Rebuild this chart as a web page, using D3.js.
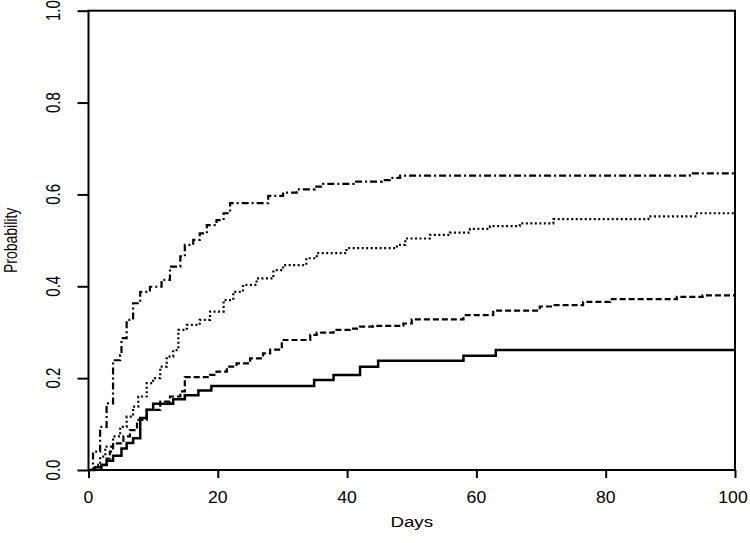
<!DOCTYPE html>
<html>
<head>
<meta charset="utf-8">
<script src="https://cdn.jsdelivr.net/npm/d3@7"></script>
<style>
  body { margin: 0; background: #fff; }
  svg { display: block; font-family: "Liberation Sans", Arial, sans-serif; }
</style>
</head>
<body>
<svg id="chart"></svg>
<script>
// Cumulative probability step curves
const solidDays = [0, 1, 2, 2.8, 3.8, 5.1, 5.9, 6.9, 8, 9, 10, 13.1, 14.9, 17, 19, 34.9, 37.9, 42, 44.8, 58, 63, 100];
const solidVals = [0, 0.006, 0.011, 0.020, 0.031, 0.047, 0.059, 0.069, 0.113, 0.131, 0.144, 0.154, 0.163, 0.173, 0.183, 0.196, 0.207, 0.225, 0.238, 0.249, 0.261, 0.261];

const dashedDays = [0, 2, 2.8, 3.3, 3.8, 5.4, 6.4, 7.5, 9, 11.1, 12.6, 14.2, 14.9, 18.8, 19.8, 21.4, 22.9, 25, 27, 28.1, 29.9, 34.3, 35.3, 37.9, 40.4, 42, 44, 48.7, 50, 58, 62.6, 69.8, 71.9, 76.5, 80.7, 91, 95, 100];
const dashedVals = [0, 0.011, 0.025, 0.040, 0.058, 0.073, 0.087, 0.109, 0.131, 0.149, 0.160, 0.171, 0.202, 0.207, 0.214, 0.225, 0.232, 0.243, 0.254, 0.262, 0.283, 0.294, 0.299, 0.305, 0.308, 0.312, 0.314, 0.319, 0.328, 0.337, 0.347, 0.356, 0.359, 0.366, 0.372, 0.377, 0.380, 0.380];

const dottedDays = [0, 1.5, 1.8, 2.6, 3.8, 4.9, 5.9, 6.9, 7.7, 9, 10, 11.1, 12.1, 13.1, 13.9, 15.2, 17.2, 18.8, 20.9, 22.4, 23.9, 26, 28.6, 30.1, 33.7, 35.3, 39.9, 47.7, 49, 52.8, 55.9, 59, 62.1, 66.7, 71.9, 86.6, 94.1, 100];
const dottedVals = [0, 0.011, 0.029, 0.051, 0.073, 0.094, 0.116, 0.138, 0.160, 0.189, 0.200, 0.225, 0.247, 0.261, 0.305, 0.316, 0.327, 0.345, 0.370, 0.388, 0.403, 0.417, 0.435, 0.446, 0.461, 0.472, 0.483, 0.490, 0.504, 0.512, 0.517, 0.525, 0.531, 0.537, 0.546, 0.552, 0.559, 0.559];

const dotdashDays = [0, 0.7, 1.8, 2.8, 3.8, 4.9, 5.1, 5.9, 6.9, 8, 9.5, 11.3, 12.6, 14.2, 14.9, 16.2, 17.2, 18.3, 19.8, 20.9, 21.9, 27.8, 30.1, 32.2, 35, 36.3, 41, 45.4, 46.6, 48.2, 93, 100];
const dotdashVals = [0, 0.040, 0.094, 0.145, 0.239, 0.250, 0.287, 0.327, 0.363, 0.388, 0.399, 0.414, 0.443, 0.465, 0.490, 0.501, 0.515, 0.533, 0.544, 0.559, 0.581, 0.597, 0.604, 0.611, 0.617, 0.623, 0.628, 0.631, 0.636, 0.641, 0.646, 0.646];

const xTicks = [0, 20, 40, 60, 80, 100];
const yTicks = [0, 0.2, 0.4, 0.6, 0.8, 1.0];

const width = 750;
const height = 543;
const margin = { top: 10.7, right: 15, bottom: 73, left: 88.5 };

const svg = d3.select("#chart").attr("width", width).attr("height", height);

const x = d3.scaleLinear().domain([0, 100]).range([margin.left, width - margin.right]);
const y = d3.scaleLinear().domain([0, 1]).range([height - margin.bottom, margin.top]);

// Box
svg.append("rect")
  .attr("x", x(0)).attr("y", y(1))
  .attr("width", x(100) - x(0)).attr("height", y(0) - y(1))
  .attr("fill", "none").attr("stroke", "#000").attr("stroke-width", 2);

// Axes (ticks drawn by d3, labels drawn separately to mimic stretched text)
const xAxis = svg.append("g")
  .attr("transform", `translate(0, ${y(0)})`)
  .call(d3.axisBottom(x).tickValues(xTicks).tickSize(8).tickFormat(""));
const yAxis = svg.append("g")
  .attr("transform", `translate(${x(0)}, 0)`)
  .call(d3.axisLeft(y).tickValues(yTicks).tickSize(11).tickFormat(""));
[xAxis, yAxis].forEach(g => {
  g.select(".domain").remove();
  g.selectAll("line").attr("stroke", "#000").attr("stroke-width", 2);
});

svg.append("g").selectAll("text")
  .data(xTicks)
  .join("text")
  .attr("transform", d => `translate(${d === 100 ? x(d) - 2 : x(d)}, 503) scale(1.1, 1)`)
  .attr("text-anchor", "middle")
  .style("font-size", "16px")
  .text(d => d);

svg.append("g").selectAll("text")
  .data(yTicks)
  .join("text")
  .attr("transform", d => `translate(60, ${y(d)}) scale(1.4, 1) rotate(-90)`)
  .attr("text-anchor", "middle")
  .style("font-size", "15px")
  .text(d => d3.format(".1f")(d));

// Axis titles
svg.append("text")
  .attr("transform", `translate(${(x(0) + x(100)) / 2}, 527) scale(1.25, 1)`)
  .attr("text-anchor", "middle")
  .style("font-size", "15px")
  .text("Days");

svg.append("text")
  .attr("transform", `translate(17, ${(y(0) + y(1)) / 2}) scale(1.3, 1) rotate(-90)`)
  .attr("text-anchor", "middle")
  .style("font-size", "14px")
  .text("Probability");

// Curves
const series = [
  { days: solidDays, vals: solidVals, dash: null, w: 2.5 },
  { days: dashedDays, vals: dashedVals, dash: "6,3", w: 2.2 },
  { days: dottedDays, vals: dottedVals, dash: "2,2.5", w: 2.2 },
  { days: dotdashDays, vals: dotdashVals, dash: "7,3,2,3", w: 2.2 }
];

const line = d3.line()
  .x(d => x(d[0]))
  .y(d => y(d[1]))
  .curve(d3.curveStepAfter);

svg.append("g")
  .selectAll("path")
  .data(series)
  .join("path")
  .attr("d", s => line(s.days.map((d, i) => [d, s.vals[i]])))
  .attr("fill", "none")
  .attr("stroke", "#000")
  .attr("stroke-width", s => s.w)
  .attr("stroke-dasharray", s => s.dash);
</script>
</body>
</html>
